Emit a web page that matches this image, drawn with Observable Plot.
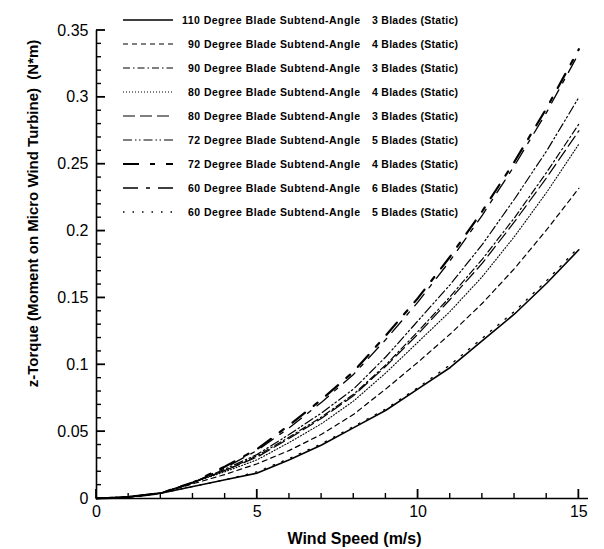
<!DOCTYPE html>
<html>
<head>
<meta charset="utf-8">
<script src="https://cdn.jsdelivr.net/npm/d3@7"></script>
<script src="https://cdn.jsdelivr.net/npm/@observablehq/plot@0.6"></script>
<style>
  html, body { margin: 0; padding: 0; background: #fff; }
  #wrap { position: relative; width: 604px; height: 549px; font-family: Arial, "Liberation Sans", sans-serif; }
  .overlay { position: absolute; left: 0; top: 0; pointer-events: none; overflow: visible; }
</style>
</head>
<body>
<div id="wrap"></div>
<script>
// Wind speed (m/s)
const windSpeed = [0,1,2,3,4,5,6,7,8,9,10,11,12,13,14,15];

// z-Torque (N*m) per configuration
const deg110_3 = [0,0.0015,0.004,0.009,0.014,0.019,0.029,0.040,0.053,0.066,0.082,0.098,0.118,0.138,0.161,0.186];
const deg90_4  = [0,0.001,0.004,0.011,0.018,0.026,0.036,0.048,0.063,0.082,0.102,0.123,0.146,0.172,0.201,0.232];
const deg90_3  = [0,0.001,0.004,0.012,0.021,0.032,0.046,0.061,0.078,0.100,0.125,0.151,0.179,0.210,0.244,0.280];
const deg80_4  = [0,0.001,0.004,0.012,0.020,0.029,0.042,0.056,0.073,0.094,0.117,0.140,0.166,0.196,0.229,0.265];
const deg80_3  = [0,0.001,0.004,0.012,0.021,0.031,0.045,0.060,0.077,0.099,0.123,0.149,0.176,0.207,0.240,0.275];
const deg72_5  = [0,0.001,0.004,0.012,0.022,0.033,0.048,0.064,0.082,0.106,0.133,0.160,0.190,0.224,0.260,0.300];
const deg72_4  = [0,0.001,0.004,0.012,0.024,0.037,0.055,0.074,0.095,0.122,0.150,0.181,0.215,0.252,0.292,0.336];
const deg60_6  = [0,0.001,0.004,0.012,0.023,0.036,0.053,0.072,0.093,0.119,0.147,0.178,0.212,0.249,0.289,0.333];
const deg60_5  = [0,0.0015,0.004,0.009,0.014,0.020,0.030,0.041,0.054,0.067,0.083,0.100,0.120,0.140,0.163,0.188];

const seriesNames = [
  ["110 Degree Blade Subtend-Angle", "3 Blades (Static)"],
  ["90 Degree Blade Subtend-Angle", "4 Blades (Static)"],
  ["90 Degree Blade Subtend-Angle", "3 Blades (Static)"],
  ["80 Degree Blade Subtend-Angle", "4 Blades (Static)"],
  ["80 Degree Blade Subtend-Angle", "3 Blades (Static)"],
  ["72 Degree Blade Subtend-Angle", "5 Blades (Static)"],
  ["72 Degree Blade Subtend-Angle", "4 Blades (Static)"],
  ["60 Degree Blade Subtend-Angle", "6 Blades (Static)"],
  ["60 Degree Blade Subtend-Angle", "5 Blades (Static)"]
];
const seriesValues = [deg110_3, deg90_4, deg90_3, deg80_4, deg80_3, deg72_5, deg72_4, deg60_6, deg60_5];

const xMajor = [0,5,10,15];
const xMinor = [1,2,3,4,6,7,8,9,11,12,13,14];
const yMajor = [0,0.05,0.1,0.15,0.2,0.25,0.3,0.35];
const yMinor = [0.01,0.02,0.03,0.04,0.06,0.07,0.08,0.09,0.11,0.12,0.13,0.14,0.16,0.17,0.18,0.19,0.21,0.22,0.23,0.24,0.26,0.27,0.28,0.29,0.31,0.32,0.33,0.34];
const yTickLabels = ["0","0.05","0.1","0.15","0.2","0.25","0.3","0.35"];

// line styles (presentation only)
const styles = [
  {dash: null, w: 1.6},
  {dash: "5,4", w: 1.2},
  {dash: "7,3,1.5,3", w: 1.2},
  {dash: "1,2", w: 1.1},
  {dash: "12,5", w: 1.2},
  {dash: "9,3,1.5,2.5,1.5,3", w: 1.2},
  {dash: "16,11,5,11", w: 2.2},
  {dash: "15,8,4,8", w: 1.3},
  {dash: "1.5,8", w: 1.3}
];

const W = 604, H = 549, ML = 96, MR = 16, MT = 30, MB = 51;

const tables = seriesValues.map(vals => windSpeed.map((x, i) => ({x, y: vals[i]})));

const lineMarks = tables.map((t, i) => Plot.line(t, {
  x: "x", y: "y", stroke: "black",
  strokeWidth: styles[i].w,
  strokeDasharray: styles[i].dash || undefined
}));

const chart = Plot.plot({
  width: W,
  height: H,
  marginLeft: ML,
  marginRight: MR,
  marginTop: MT,
  marginBottom: MB,
  style: {fontFamily: "Arial, 'Liberation Sans', sans-serif", fontSize: "16px", color: "black", background: "white"},
  x: {domain: [0, 15.3]},
  y: {domain: [0, 0.35]},
  marks: [
    ...lineMarks,
    Plot.ruleY([0], {stroke: "black", strokeWidth: 1.6}),
    Plot.ruleX([0], {stroke: "black", strokeWidth: 1.6}),
    Plot.axisX({ticks: xMajor, tickSize: 0, tickPadding: 7, tickFormat: d => String(d), fontSize: 16, label: null}),
    Plot.axisY({ticks: yMajor, tickSize: 0, tickPadding: 8, tickFormat: d => yTickLabels[yMajor.indexOf(d)], fontSize: 16, label: null}),
    Plot.text(["Wind Speed (m/s)"], {frameAnchor: "bottom", dy: 45, dx: 12, text: d => d, fontSize: 16, fontWeight: "bold"}),
    Plot.text(["z-Torque (Moment on Micro Wind Turbine)  (N*m)"], {frameAnchor: "left", textAnchor: "middle", dx: -63, dy: -51, rotate: -90, text: d => d, fontSize: 15, fontWeight: "bold"})
  ]
});

const wrap = document.getElementById("wrap");
wrap.appendChild(chart);

const ns = "http://www.w3.org/2000/svg";
const sx = v => chart.scale("x").apply(v);
const sy = v => chart.scale("y").apply(v);

// Inward axis ticks, positioned with the plot's own scales
const tk = document.createElementNS(ns, "svg");
tk.setAttribute("class", "overlay");
tk.setAttribute("width", W);
tk.setAttribute("height", H);
wrap.appendChild(tk);
function addLine(svg, x1, y1, x2, y2, w, dash) {
  const ln = document.createElementNS(ns, "line");
  ln.setAttribute("x1", x1); ln.setAttribute("x2", x2);
  ln.setAttribute("y1", y1); ln.setAttribute("y2", y2);
  ln.setAttribute("stroke", "black");
  ln.setAttribute("stroke-width", w);
  if (dash) ln.setAttribute("stroke-dasharray", dash);
  svg.appendChild(ln);
}
const y0 = sy(0), x0px = sx(0);
xMajor.forEach(v => addLine(tk, sx(v), y0, sx(v), y0 - 9, 1.8));
xMinor.forEach(v => addLine(tk, sx(v), y0, sx(v), y0 - 5, 1.4));
yMajor.forEach(v => addLine(tk, x0px, sy(v), x0px + 9, sy(v), 1.8));
yMinor.forEach(v => addLine(tk, x0px, sy(v), x0px + 5, sy(v), 1.4));

// Legend overlay
const leg = document.createElementNS(ns, "svg");
leg.setAttribute("class", "overlay");
leg.setAttribute("width", W);
leg.setAttribute("height", 240);
wrap.appendChild(leg);
seriesNames.forEach((nm, i) => {
  const y = 20 + i * 24;
  addLine(leg, 123, y, 173, y, styles[i].w, styles[i].dash);
  const xs = nm[0].startsWith("110") ? 182 : 188;
  const t1 = document.createElementNS(ns, "text");
  t1.setAttribute("x", xs); t1.setAttribute("y", y + 4);
  t1.setAttribute("font-size", "10.5");
  t1.setAttribute("font-weight", "bold");
  t1.setAttribute("font-family", "Arial, 'Liberation Sans', sans-serif");
  t1.setAttribute("textLength", 360 - xs);
  t1.setAttribute("lengthAdjust", "spacing");
  t1.textContent = nm[0];
  leg.appendChild(t1);
  const t2 = document.createElementNS(ns, "text");
  t2.setAttribute("x", 372); t2.setAttribute("y", y + 4);
  t2.setAttribute("font-size", "10.5");
  t2.setAttribute("font-weight", "bold");
  t2.setAttribute("font-family", "Arial, 'Liberation Sans', sans-serif");
  t2.setAttribute("textLength", 86);
  t2.setAttribute("lengthAdjust", "spacing");
  t2.textContent = nm[1];
  leg.appendChild(t2);
});
</script>
</body>
</html>
